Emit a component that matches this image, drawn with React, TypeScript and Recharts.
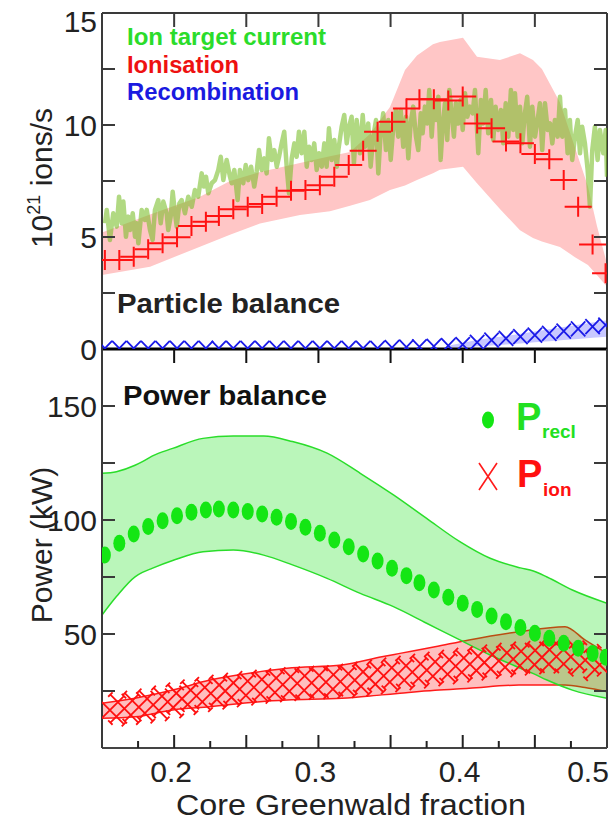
import React from 'react';
import { ComposedChart, XAxis, YAxis, Area, Line, Scatter, ReferenceLine } from 'recharts';

const FONT = '"Liberation Sans", Arial, Helvetica, sans-serif';

// ---------- shared x grid of the marker series ----------
const gridX = [0.152, 0.162, 0.172, 0.182, 0.192, 0.202, 0.212, 0.222, 0.231, 0.241, 0.251, 0.261,
  0.271, 0.281, 0.291, 0.301, 0.311, 0.321, 0.331, 0.341, 0.351, 0.361, 0.370, 0.380,
  0.390, 0.400, 0.410, 0.420, 0.430, 0.440, 0.450, 0.460, 0.470, 0.480, 0.490, 0.499];

// ---------- top panel: particle balance (10^21 ions/s) ----------
const ionisation = [3.97, 3.97, 4.12, 4.45, 4.72, 4.99, 5.49, 5.68, 5.94, 6.24, 6.35, 6.47,
  6.80, 7.07, 7.10, 7.31, 7.69, 8.21, 8.85, 9.70, 10.15, 10.74, 11.15, 11.15,
  11.09, 11.27, 10.07, 9.85, 9.26, 9.18, 8.70, 8.47, 7.54, 6.35, 4.67, 3.38];

const recombination = [0.03, 0.03, 0.03, 0.03, 0.03, 0.03, 0.03, 0.03, 0.03, 0.03, 0.03, 0.03,
  0.03, 0.03, 0.03, 0.03, 0.03, 0.03, 0.03, 0.03, 0.06, 0.08, 0.10, 0.12,
  0.15, 0.20, 0.30, 0.40, 0.47, 0.55, 0.62, 0.70, 0.80, 0.90, 1.00, 1.07];

const recombBandX = [0.390, 0.400, 0.410, 0.420, 0.430, 0.440, 0.450, 0.460, 0.470, 0.480, 0.490, 0.500];
const recombBandLo = [0.05, 0.08, 0.12, 0.16, 0.20, 0.25, 0.30, 0.35, 0.40, 0.45, 0.50, 0.55];
const recombBandHi = [0.15, 0.28, 0.40, 0.50, 0.58, 0.68, 0.78, 0.88, 0.98, 1.08, 1.18, 1.28];

const ionisationBandX = [0.15, 0.1833, 0.2179, 0.2387, 0.2595, 0.2872, 0.3080, 0.3219, 0.3357, 0.3496,
  0.3600, 0.3683, 0.3794, 0.3842, 0.4002, 0.4099, 0.4258, 0.4397, 0.4487, 0.4549, 0.4674, 0.4778,
  0.4868, 0.4930, 0.5];
const ionisationBandHi = [5.2, 6.0, 6.8, 7.5, 7.9, 8.3, 8.6, 8.8, 9.6, 10.8, 12.45, 13.1, 13.6, 13.7,
  13.9, 13.05, 12.9, 13.2, 12.9, 12.5, 11.0, 9.0, 7.25, 5.5, 3.8];
const ionisationBandLo = [3.3, 3.67, 4.57, 5.1, 5.6, 5.98, 6.15, 6.4, 6.65, 7.1, 7.3, 7.54, 7.85, 8.0,
  8.14, 7.4, 6.25, 5.3, 4.95, 4.8, 4.55, 4.1, 3.75, 3.3, 2.78];

const ionCurrentX = [
  0.1521, 0.1533, 0.1555, 0.1578, 0.1602, 0.1618, 0.1637, 0.1648, 0.1666, 0.1682, 0.1694, 0.1713,
  0.1729, 0.1740, 0.1752, 0.1775, 0.1798, 0.1810, 0.1833, 0.1851, 0.1867, 0.1890, 0.1907, 0.1925,
  0.1948, 0.1959, 0.1976, 0.1990, 0.2006, 0.2018, 0.2036, 0.2052, 0.2075, 0.2098, 0.2122, 0.2144,
  0.2167, 0.2191, 0.2207, 0.2221, 0.2237, 0.2260, 0.2283, 0.2306, 0.2323, 0.2341, 0.2364, 0.2387,
  0.2399, 0.2417, 0.2440, 0.2456, 0.2479, 0.2496, 0.2514, 0.2533, 0.2555, 0.2572, 0.2588, 0.2607,
  0.2625, 0.2641, 0.2657, 0.2676, 0.2694, 0.2711, 0.2727, 0.2745, 0.2763, 0.2780, 0.2796, 0.2815,
  0.2833, 0.2849, 0.2865, 0.2884, 0.2902, 0.2919, 0.2935, 0.2953, 0.2971, 0.2988, 0.3004, 0.3023,
  0.3041, 0.3057, 0.3073, 0.3092, 0.3110, 0.3127, 0.3138, 0.3161, 0.3179, 0.3196, 0.3212,
  0.3230, 0.3246, 0.3265, 0.3288, 0.3307, 0.3323, 0.3345, 0.3362, 0.3380, 0.3399, 0.3415, 0.3431,
  0.3449, 0.3468, 0.3484, 0.3501, 0.3519, 0.3537, 0.3553, 0.3570, 0.3588, 0.3607, 0.3623, 0.3639,
  0.3657, 0.3676, 0.3692, 0.3709, 0.3722, 0.3738, 0.3754, 0.3768, 0.3785, 0.3801, 0.3815, 0.3831,
  0.3847, 0.3861, 0.3877, 0.3893, 0.3907, 0.3923, 0.3939, 0.3953, 0.3969, 0.3986, 0.4000, 0.4016,
  0.4032, 0.4050, 0.4069,
  0.4085, 0.4108, 0.4126, 0.4142, 0.4159, 0.4177, 0.4196, 0.4212, 0.4228, 0.4246, 0.4265, 0.4281,
  0.4298, 0.4316, 0.4334, 0.4350, 0.4362, 0.4381, 0.4397, 0.4413, 0.4431, 0.4447, 0.4466, 0.4482,
  0.4501, 0.4519, 0.4535, 0.4551, 0.4570, 0.4589, 0.4605, 0.4621, 0.4639, 0.4658, 0.4674, 0.4690,
  0.4709, 0.4727, 0.4743, 0.4759, 0.4778, 0.4797, 0.4813, 0.4828, 0.4847, 0.4866, 0.4882, 0.4898,
  0.4916, 0.4935, 0.4951, 0.4974, 0.4991, 0.5000];
const ionCurrentY = [
  5.61, 6.21, 4.87, 6.06, 5.46, 6.80, 5.61, 6.58, 5.01, 5.91, 5.31, 6.06,
  5.01, 5.61, 4.72, 6.21, 5.76, 6.21, 5.31, 4.87, 6.21, 6.65, 5.61, 6.58,
  6.06, 5.31, 5.91, 7.02, 6.06, 5.46, 6.50, 6.65, 6.06, 6.80, 6.35, 7.10,
  6.80, 7.84, 7.25, 7.69, 6.95, 7.40, 7.54, 7.99, 8.58, 7.54, 8.44, 7.69,
  7.40, 7.99, 6.65, 7.99, 7.40, 8.21, 7.54, 8.14, 7.25, 7.92, 8.88, 7.99,
  8.51, 7.84, 9.41, 8.44, 8.88, 8.14, 8.58, 9.18, 9.70, 8.14, 6.95, 8.51,
  9.18, 8.58, 9.70, 8.74, 9.70, 8.14, 9.03, 8.44, 9.18, 7.99, 8.74, 8.14,
  9.18, 8.14, 9.85, 8.44, 9.33, 8.14, 8.88, 9.92, 10.45, 9.18, 9.92,
  10.37, 8.29, 10.22, 8.74, 10.45, 9.03, 10.07, 8.14, 9.48, 10.22, 7.84, 9.63,
  10.52, 8.88, 10.22, 8.44, 9.92, 10.67, 9.48, 10.67, 9.03, 10.37, 8.51, 10.07,
  10.82, 9.48, 8.88, 10.52, 9.63, 10.82, 10.07, 11.56, 9.48, 11.12, 10.22, 11.26,
  8.44, 9.92, 10.97, 9.33, 11.56, 10.52, 9.48, 10.97, 10.07, 11.12, 9.78, 11.42,
  10.37, 10.82, 10.52,
  11.56, 8.74, 11.12, 10.07, 11.56, 9.63, 11.12, 9.33, 10.82, 9.78, 10.67, 9.18,
  10.97, 9.48, 11.56, 9.78, 11.42, 9.48, 10.82, 9.18, 10.52, 11.26, 9.03, 10.82,
  9.48, 10.22, 10.97, 8.88, 10.97, 9.78, 10.07, 9.18, 10.22, 9.48, 11.26, 9.48,
  10.67, 8.74, 10.22, 8.44, 9.48, 10.22, 8.74, 9.92, 9.18, 7.99, 6.35, 8.88,
  9.92, 8.44, 9.78, 8.74, 9.78, 7.69];

// ---------- bottom panel: power balance (kW) ----------
const pRecl = [84.6, 89.8, 93.9, 97.1, 99.7, 101.9, 103.4, 104.4, 104.8, 104.4, 103.7, 102.6,
  101.2, 99.3, 96.8, 94.2, 91.2, 88.3, 85.1, 82.0, 78.8, 75.6, 72.5, 69.3,
  66.1, 63.5, 60.8, 57.9, 55.4, 52.9, 50.3, 48.1, 45.9, 43.7, 41.5, 39.8];

const pIonX = [0.1555, 0.1655, 0.1755, 0.1855, 0.1955, 0.2054, 0.2154, 0.2254, 0.2354, 0.2454,
  0.2553, 0.2653, 0.2753, 0.2853, 0.2953, 0.3052, 0.3152, 0.3252, 0.3352, 0.3452, 0.3551, 0.3651,
  0.3751, 0.3851, 0.3951, 0.4050, 0.4150, 0.4250, 0.4350, 0.4450, 0.4549, 0.4649, 0.4749, 0.4849, 0.4949];
const pIon = [16.6, 17.3, 17.9, 18.9, 20.2, 21.6, 22.9, 24.0, 25.0, 25.8, 26.6, 27.2, 27.8, 28.3,
  28.6, 28.9, 29.1, 29.8, 30.7, 31.6, 32.5, 33.3, 34.2, 35.1, 35.9, 36.8, 37.5, 38.2, 39.0, 39.5,
  39.8, 40.1, 40.0, 38.5, 36.5];

const reclBandX = [0.15, 0.160, 0.1729, 0.178, 0.1847, 0.199, 0.220, 0.241, 0.262, 0.282, 0.306,
  0.329, 0.352, 0.375, 0.398, 0.419, 0.440, 0.449, 0.4584, 0.476, 0.50];
const reclBandHi = [120.5, 121.2, 124.0, 125.6, 128.0, 131.4, 135.8, 136.8, 136.8, 134.4, 129.3,
  120.5, 111.0, 100.7, 90.5, 83.2, 79.0, 77.6, 75.0, 69.3, 63.5];
const reclBandLo = [58.3, 66.4, 75.1, 77.0, 78.8, 82.2, 86.1, 86.8, 84.6, 80.3, 74.4,
  67.8, 62.0, 54.7, 47.4, 40.8, 35.0, 32.6, 29.8, 25.4, 21.8];

const ionBandX = [0.15, 0.1729, 0.199, 0.2248, 0.2595, 0.2782, 0.3163, 0.3440, 0.3565, 0.3808,
  0.4044, 0.4390, 0.4709, 0.4847, 0.5];
const ionBandHi = [19.6, 21.8, 25.4, 29.8, 33.5, 35.0, 36.4, 40.0, 41.5, 44.4, 47.4, 51.0, 53.2, 47.4, 41.5];
const ionBandLo = [13.0, 13.7, 16.7, 18.1, 20.3, 21.0, 21.8, 23.3, 24.0, 25.3, 26.2, 27.6, 27.6, 26.5, 24.7];

// ---------- axes ----------
const topYTicks = [0, 2.5, 5, 7.5, 10, 12.5, 15];
const topYLabels = [0, 5, 10, 15];
const botYTicks = [0, 25, 50, 75, 100, 125, 150, 175];
const botYLabels = [50, 100, 150];
const xMajorTicks = [0.15, 0.2, 0.25, 0.3, 0.35, 0.4, 0.45, 0.5];
const xAllTicks = [0.15, 0.175, 0.2, 0.225, 0.25, 0.275, 0.3, 0.325, 0.35, 0.375, 0.4, 0.425, 0.45, 0.475, 0.5];
const xLabels = [0.2, 0.3, 0.4, 0.5];

// ---------- tables built from the arrays ----------
const ionisationData = gridX.map((x, i) => ({ x, y: ionisation[i] }));
const recombinationData = gridX.map((x, i) => ({ x, y: recombination[i] }));
const recombBandData = recombBandX.map((x, i) => ({ x, lo: recombBandLo[i], hi: recombBandHi[i] }));
const ionisationBandData = ionisationBandX.map((x, i) => ({ x, lo: ionisationBandLo[i], hi: ionisationBandHi[i] }));
const ionCurrentData = ionCurrentX.map((x, i) => ({ x, y: ionCurrentY[i] }));
const pReclData = gridX.map((x, i) => ({ x, y: pRecl[i] }));
const pIonData = pIonX.map((x, i) => ({ x, y: pIon[i] }));
const reclBandData = reclBandX.map((x, i) => ({ x, lo: reclBandLo[i], hi: reclBandHi[i] }));
const ionBandData = ionBandX.map((x, i) => ({ x, lo: ionBandLo[i], hi: ionBandHi[i] }));

const range = (d: any) => [d.lo, d.hi];

// ---------- plot geometry ----------
const PLOT_W = 505;
const TOP_H = 336;
const FRAME = '#3a3a3a';
const near = (a: number, list: number[]) => list.some((b) => Math.abs(a - b) < 1e-6);

const TopXTick = (p: any) => {
  const v = p.payload.value;
  if (near(v, [0.15, 0.5])) return <g />;
  return (
    <g>
      <line x1={p.x} x2={p.x} y1={p.y} y2={p.y + 14} stroke="#111" strokeWidth={2} />
      <line x1={p.x} x2={p.x} y1={p.y - TOP_H} y2={p.y - TOP_H + 14} stroke={FRAME} strokeWidth={2} />
    </g>
  );
};

const TopYTick = (p: any) => {
  const v = p.payload.value;
  const showLine = !near(v, [0, 15]);
  const showLabel = near(v, topYLabels);
  const ly = v === 15 ? p.y + 8 : p.y;
  return (
    <g>
      {showLine && <line x1={p.x} x2={p.x + 13} y1={p.y} y2={p.y} stroke={FRAME} strokeWidth={2} />}
      {showLine && <line x1={p.x + PLOT_W - 13} x2={p.x + PLOT_W} y1={p.y} y2={p.y} stroke={FRAME} strokeWidth={2} />}
      {showLabel && (
        <text x={p.x - 5} y={ly + 11} textAnchor="end" fontSize={30} fontFamily={FONT} fill="#222">{v}</text>
      )}
    </g>
  );
};

const BotXTick = (p: any) => {
  const v = p.payload.value;
  const major = Math.abs(v * 20 - Math.round(v * 20)) < 1e-6;
  const edge = near(v, [0.15, 0.5]);
  const label = near(v, xLabels);
  const lx = near(v, [0.5]) ? p.x - 19 : p.x - 3;
  return (
    <g>
      {!edge && <line x1={p.x} x2={p.x} y1={p.y} y2={p.y - (major ? 13 : 7)} stroke="#222" strokeWidth={2} />}
      {label && (
        <text x={lx} y={p.y + 34} textAnchor="middle" fontSize={30} fontFamily={FONT} fill="#222">{v.toFixed(1)}</text>
      )}
    </g>
  );
};

const BotYTick = (p: any) => {
  const v = p.payload.value;
  const showLine = !near(v, [0, 175]);
  const showLabel = near(v, botYLabels);
  return (
    <g>
      {showLine && <line x1={p.x} x2={p.x + 13} y1={p.y} y2={p.y} stroke={FRAME} strokeWidth={2} />}
      {showLine && <line x1={p.x + PLOT_W - 13} x2={p.x + PLOT_W} y1={p.y} y2={p.y} stroke={FRAME} strokeWidth={2} />}
      {showLabel && (
        <text x={p.x - 5} y={p.y + 11} textAnchor="end" fontSize={30} fontFamily={FONT} fill="#222">{v}</text>
      )}
    </g>
  );
};

// ---------- marker shapes ----------
const PlusMark = (p: any) => (
  <path d={`M${p.cx - 13.5},${p.cy}H${p.cx + 13.5}M${p.cx},${p.cy - 10}V${p.cy + 10}`} stroke="#ff1212" strokeWidth={2} fill="none" />
);
const BlueX = (p: any) => {
  const w = 7.2, h = 7.5;
  return (
    <path d={`M${p.cx - w},${p.cy - h}L${p.cx + w},${p.cy + h}M${p.cx - w},${p.cy + h}L${p.cx + w},${p.cy - h}`} stroke="#1a1ae8" strokeWidth={1.8} fill="none" />
  );
};
const RedX = (p: any) => {
  const w = 14, h = 14, c = 2.2;
  const { cx, cy } = p;
  const ends = [[cx - w, cy - h, 1], [cx + w, cy + h, 1], [cx - w, cy + h, -1], [cx + w, cy - h, -1]];
  let d = `M${cx - w},${cy - h}L${cx + w},${cy + h}M${cx - w},${cy + h}L${cx + w},${cy - h}`;
  ends.forEach(([ex, ey, s]) => {
    d += `M${ex - c},${ey + s * c}L${ex + c},${ey - s * c}`;
  });
  return <path d={d} stroke="#ff1010" strokeWidth={1.8} fill="none" />;
};
const GreenDot = (p: any) => <ellipse cx={p.cx} cy={p.cy} rx={6} ry={8.5} fill="#14e614" />;

export default function App() {
  return (
    <div style={{ position: 'absolute', left: 0, top: 0, width: 609, height: 822, background: '#fff', overflow: 'hidden' }}>
      <div style={{ position: 'absolute', left: 0, top: 0 }}>
        <ComposedChart width={609} height={365} margin={{ top: 13, right: 2, left: 0, bottom: 0 }}>
          <XAxis type="number" dataKey="x" domain={[0.15, 0.5]} ticks={xMajorTicks} interval={0} allowDataOverflow
            height={16} tickSize={0} tickMargin={0} tickLine={false} axisLine={{ stroke: '#000', strokeWidth: 3 }} tick={TopXTick} />
          <YAxis type="number" domain={[0, 15]} ticks={topYTicks} interval={0} allowDataOverflow width={102}
            tickSize={0} tickMargin={0} tickLine={false} axisLine={{ stroke: FRAME, strokeWidth: 2 }} tick={TopYTick} />
          <ReferenceLine y={15} stroke={FRAME} strokeWidth={2} />
          <ReferenceLine x={0.5} stroke={FRAME} strokeWidth={2} />
          <Area data={ionisationBandData} dataKey={range} type="linear" fill="#ffc6c6" fillOpacity={1} stroke="none" isAnimationActive={false} />
          <Area data={recombBandData} dataKey={range} type="linear" fill="#c8c8ff" fillOpacity={1} stroke="none" isAnimationActive={false} />
          <Scatter data={ionisationData} dataKey="y" shape={PlusMark} isAnimationActive={false} />
          <Line data={ionCurrentData} dataKey="y" type="linear" dot={false} stroke="rgb(120,190,40)" strokeOpacity={0.58} strokeWidth={4.5} strokeLinejoin="round" isAnimationActive={false} />
          <Scatter data={recombinationData} dataKey="y" shape={BlueX} isAnimationActive={false} />
        </ComposedChart>
      </div>
      <div style={{ position: 'absolute', left: 0, top: 0 }}>
        <ComposedChart width={609} height={822} margin={{ top: 349, right: 2, left: 0, bottom: 0 }}>
          <XAxis type="number" dataKey="x" domain={[0.15, 0.5]} ticks={xAllTicks} interval={0} allowDataOverflow
            height={74} tickSize={0} tickMargin={0} tickLine={false} axisLine={{ stroke: '#444', strokeWidth: 2 }} tick={BotXTick} />
          <YAxis type="number" domain={[0, 175]} ticks={botYTicks} interval={0} allowDataOverflow width={102}
            tickSize={0} tickMargin={0} tickLine={false} axisLine={{ stroke: FRAME, strokeWidth: 2 }} tick={BotYTick} />
          <ReferenceLine x={0.5} stroke={FRAME} strokeWidth={2} />
          <Area data={ionBandData} dataKey={range} type="monotone" fill="rgb(255,0,0)" fillOpacity={0.25} stroke="#ff1a1a" strokeWidth={1.5} isAnimationActive={false} />
          <Scatter data={pIonData} dataKey="y" shape={RedX} isAnimationActive={false} />
          <Area data={reclBandData} dataKey={range} type="monotone" fill="rgb(0,220,0)" fillOpacity={0.27} stroke="#2add2a" strokeWidth={1.5} isAnimationActive={false} />
          <Scatter data={pReclData} dataKey="y" shape={GreenDot} isAnimationActive={false} />
        </ComposedChart>
      </div>
      <svg width={609} height={822} style={{ position: 'absolute', left: 0, top: 0, pointerEvents: 'none' }} fontFamily={FONT}>
        <text x={127} y={45} fontSize={23} fontWeight="bold" fill="#2bdc2b" textLength={199} lengthAdjust="spacingAndGlyphs">Ion target current</text>
        <text x={127} y={73} fontSize={23} fontWeight="bold" fill="#ee1111" textLength={112} lengthAdjust="spacingAndGlyphs">Ionisation</text>
        <text x={127} y={100} fontSize={23} fontWeight="bold" fill="#1a1ae0" textLength={172} lengthAdjust="spacingAndGlyphs">Recombination</text>
        <text x={117} y={313} fontSize={27} fontWeight="bold" fill="#222" textLength={223} lengthAdjust="spacingAndGlyphs">Particle balance</text>
        <text x={123} y={405} fontSize={27} fontWeight="bold" fill="#111" textLength={204} lengthAdjust="spacingAndGlyphs">Power balance</text>
        <ellipse cx={488} cy={420} rx={6} ry={8.5} fill="#14e614" />
        <text x={516} y={430} fontSize={38} fontWeight="bold" fill="#22e022">P</text>
        <text x={542} y={438} fontSize={19} fontWeight="bold" fill="#22e022">recl</text>
        <path d="M479,463L497,490M497,463L479,490" stroke="#ff1a1a" strokeWidth={1.6} fill="none" />
        <text x={517} y={487} fontSize={38} fontWeight="bold" fill="#ff1010">P</text>
        <text x={543} y={496} fontSize={19} fontWeight="bold" fill="#ff1010">ion</text>
        <text transform="rotate(-90)" x={-178} y={52} fontSize={30} textAnchor="middle" fill="#222">
          10<tspan fontSize={18} dy={-12}>21</tspan><tspan dy={12}> ions/s</tspan>
        </text>
        <text transform="rotate(-90)" x={-545} y={52} fontSize={30} textAnchor="middle" fill="#222">Power (kW)</text>
        <text x={351} y={815} fontSize={29} textAnchor="middle" fill="#222" textLength={350} lengthAdjust="spacingAndGlyphs">Core Greenwald fraction</text>
      </svg>
    </div>
  );
}
